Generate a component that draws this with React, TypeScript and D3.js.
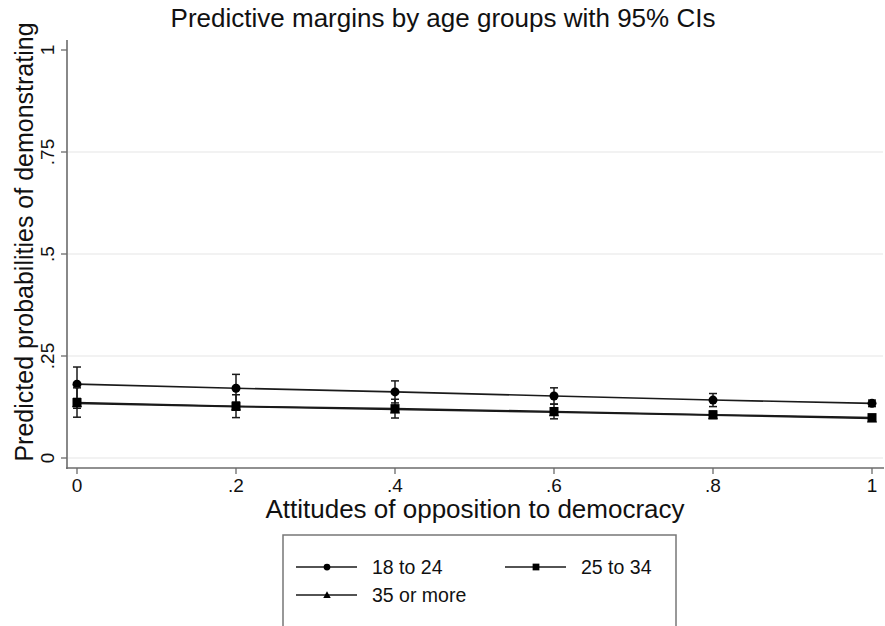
import React from "react";
import * as d3 from "d3";

const xValues = [0, 0.2, 0.4, 0.6, 0.8, 1];
const xTickLabels = ["0", ".2", ".4", ".6", ".8", "1"];
const yTicks = [0, 0.25, 0.5, 0.75, 1];
const yTickLabels = ["0", ".25", ".5", ".75", "1"];
const yGrid = [0, 0.25, 0.5, 0.75];

const g1824 = [0.181, 0.171, 0.162, 0.152, 0.142, 0.134];
const g1824Lo = [0.139, 0.137, 0.135, 0.132, 0.126, 0.126];
const g1824Hi = [0.223, 0.205, 0.189, 0.172, 0.158, 0.142];

const g2534 = [0.136, 0.127, 0.121, 0.114, 0.106, 0.099];
const g2534Lo = [0.1, 0.099, 0.098, 0.096, 0.097, 0.093];
const g2534Hi = [0.172, 0.155, 0.144, 0.132, 0.115, 0.105];

const g35 = [0.134, 0.126, 0.119, 0.112, 0.105, 0.097];
const g35Lo = [0.122, 0.117, 0.112, 0.106, 0.1, 0.093];
const g35Hi = [0.146, 0.135, 0.126, 0.118, 0.11, 0.101];

const legendLabels = ["18 to 24", "25 to 34", "35 or more"];

const W = 885;
const H = 626;
const FONT = "'Liberation Sans', Arial, Helvetica, sans-serif";

export default function App() {
  const x = d3.scaleLinear().domain([0, 1]).range([77, 872]);
  const y = d3.scaleLinear().domain([0, 1]).range([458, 50]);
  const line = d3
    .line<number>()
    .x((_, i) => x(xValues[i]))
    .y((d) => y(d));

  const series = [
    { vals: g1824, lo: g1824Lo, hi: g1824Hi, shape: "circle" },
    { vals: g35, lo: g35Lo, hi: g35Hi, shape: "triangle" },
    { vals: g2534, lo: g2534Lo, hi: g2534Hi, shape: "square" },
  ];

  const marker = (shape: string, cx: number, cy: number, s: number, key: string) => {
    if (shape === "circle") return <circle key={key} cx={cx} cy={cy} r={4.5 * s} fill="#000" />;
    if (shape === "square")
      return <rect key={key} x={cx - 4.5 * s} y={cy - 4.5 * s} width={9 * s} height={9 * s} fill="#000" />;
    const r = 5 * s;
    return (
      <path
        key={key}
        d={`M${cx},${cy - r} L${cx + r},${cy + r * 0.8} L${cx - r},${cy + r * 0.8} Z`}
        fill="#000"
      />
    );
  };

  const axisColor = "#6b6b6b";

  return (
    <svg width={W} height={H} style={{ position: "absolute", left: 0, top: 0, background: "#fff" }} fontFamily={FONT}>
      <rect x={0} y={0} width={W} height={H} fill="#fff" />
      {/* title */}
      <text x={443} y={27} textAnchor="middle" fontSize={26} fill="#111">
        Predictive margins by age groups with 95% CIs
      </text>
      {/* grid */}
      {yGrid.map((v) => (
        <line key={"g" + v} x1={68} x2={883} y1={y(v)} y2={y(v)} stroke="#e6e6e6" strokeWidth={1.2} />
      ))}
      {/* y axis */}
      <line x1={67} x2={67} y1={40} y2={469} stroke={axisColor} strokeWidth={1.6} />
      {yTicks.map((v, i) => (
        <g key={"yt" + v}>
          <line x1={61} x2={67} y1={y(v)} y2={y(v)} stroke={axisColor} strokeWidth={1.3} />
          <text
            transform={`translate(54,${y(v)}) rotate(-90)`}
            textAnchor="middle"
            fontSize={19}
            fill="#111"
          >
            {yTickLabels[i]}
          </text>
        </g>
      ))}
      <text transform={`translate(33,242) rotate(-90)`} textAnchor="middle" fontSize={25} fill="#111">
        Predicted probabilities of demonstrating
      </text>
      {/* x axis */}
      <line x1={66} x2={884} y1={468} y2={468} stroke={axisColor} strokeWidth={1.6} />
      {xValues.map((v, i) => (
        <g key={"xt" + v}>
          <line x1={x(v)} x2={x(v)} y1={468} y2={474} stroke={axisColor} strokeWidth={1.3} />
          <text x={x(v)} y={492} textAnchor="middle" fontSize={19} fill="#111">
            {xTickLabels[i]}
          </text>
        </g>
      ))}
      <text x={475} y={518} textAnchor="middle" fontSize={26} fill="#111">
        Attitudes of opposition to democracy
      </text>
      {/* series */}
      {series.map((s, si) => (
        <g key={"s" + si}>
          <path d={line(s.vals) || ""} fill="none" stroke="#1a1a1a" strokeWidth={1.6} />
          {xValues.map((xv, i) => (
            <g key={"ci" + i}>
              <line x1={x(xv)} x2={x(xv)} y1={y(s.lo[i])} y2={y(s.hi[i])} stroke="#1a1a1a" strokeWidth={1.5} />
              <line x1={x(xv) - 4} x2={x(xv) + 4} y1={y(s.lo[i])} y2={y(s.lo[i])} stroke="#1a1a1a" strokeWidth={1.5} />
              <line x1={x(xv) - 4} x2={x(xv) + 4} y1={y(s.hi[i])} y2={y(s.hi[i])} stroke="#1a1a1a" strokeWidth={1.5} />
            </g>
          ))}
          {xValues.map((xv, i) => marker(s.shape, x(xv), y(s.vals[i]), 1, "m" + i))}
        </g>
      ))}
      {/* legend */}
      <rect x={283} y={535} width={393} height={100} fill="#fff" stroke="#777" strokeWidth={1.5} />
      {[
        { lx: 296, ly: 567, label: legendLabels[0], shape: "circle" },
        { lx: 505, ly: 567, label: legendLabels[1], shape: "square" },
        { lx: 296, ly: 595, label: legendLabels[2], shape: "triangle" },
      ].map((e, i) => (
        <g key={"lg" + i}>
          <line x1={e.lx} x2={e.lx + 61} y1={e.ly} y2={e.ly} stroke="#1a1a1a" strokeWidth={1.5} />
          {marker(e.shape, e.lx + 31, e.ly, 0.75, "lm" + i)}
          <text x={e.lx + 76} y={e.ly + 7} fontSize={19.5} fill="#111">
            {e.label}
          </text>
        </g>
      ))}
    </svg>
  );
}
